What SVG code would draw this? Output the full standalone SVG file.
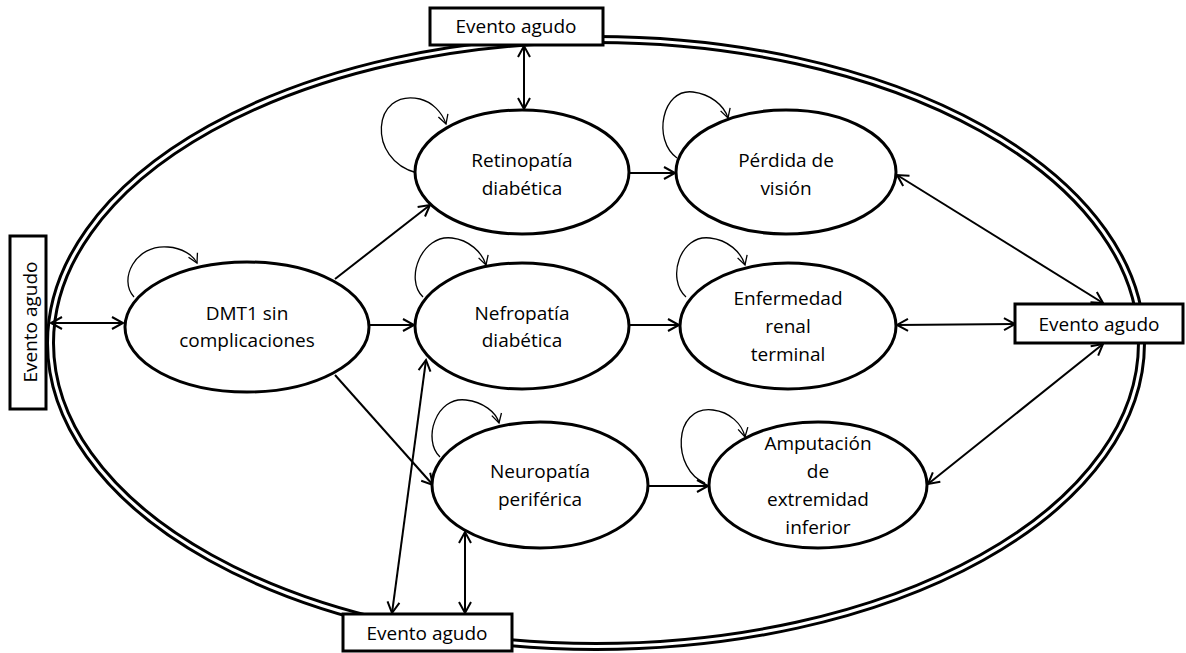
<svg xmlns="http://www.w3.org/2000/svg" width="1186" height="653" viewBox="0 0 1186 653">
<style>
text{font-family:"Open Sans","Liberation Sans",sans-serif;font-size:19px;fill:#000;text-anchor:middle}
.node{fill:#fff;stroke:#000;stroke-width:3}
.box{fill:#fff;stroke:#000;stroke-width:3}
.c{fill:none;stroke:#000;stroke-width:2}
.l{fill:none;stroke:#000;stroke-width:1.3}
</style>
<defs>
<marker id="a" markerUnits="userSpaceOnUse" markerWidth="14" markerHeight="14" refX="11" refY="6" orient="auto-start-reverse" overflow="visible">
<path d="M0,0 L11,6 L0,12" fill="none" stroke="#000" stroke-width="2"/>
</marker>
<marker id="s" markerUnits="userSpaceOnUse" markerWidth="12" markerHeight="12" refX="9" refY="5" orient="auto" overflow="visible">
<path d="M0,0 L9,5 L0,10" fill="none" stroke="#000" stroke-width="1.3"/>
</marker>
</defs>
<g id="frame">
<ellipse cx="596" cy="343" rx="545.5" ry="303.5" fill="none" stroke="#000" stroke-width="9"/>
<ellipse cx="596" cy="343" rx="545.5" ry="303.5" fill="none" stroke="#fff" stroke-width="3"/>
</g>
<g id="connectors">
<line class="c" x1="51" y1="323" x2="123" y2="323" marker-start="url(#a)" marker-end="url(#a)"/>
<line class="c" x1="524" y1="46" x2="524" y2="109" marker-start="url(#a)" marker-end="url(#a)"/>
<line class="c" x1="335" y1="279" x2="430" y2="205" marker-end="url(#a)"/>
<line class="c" x1="369" y1="325" x2="414" y2="325" marker-end="url(#a)"/>
<line class="c" x1="335" y1="375" x2="433" y2="485" marker-end="url(#a)"/>
<line class="c" x1="630" y1="173" x2="675" y2="173" marker-end="url(#a)"/>
<line class="c" x1="630" y1="325" x2="679" y2="325" marker-end="url(#a)"/>
<line class="c" x1="647" y1="486" x2="708" y2="486" marker-end="url(#a)"/>
<line class="c" x1="897" y1="175" x2="1103" y2="303" marker-start="url(#a)" marker-end="url(#a)"/>
<line class="c" x1="897" y1="325" x2="1015" y2="324" marker-start="url(#a)" marker-end="url(#a)"/>
<line class="c" x1="928" y1="484" x2="1103" y2="344" marker-start="url(#a)" marker-end="url(#a)"/>
<line class="c" x1="426" y1="360" x2="392" y2="613" marker-start="url(#a)" marker-end="url(#a)"/>
<line class="c" x1="465" y1="532" x2="465" y2="613" marker-start="url(#a)" marker-end="url(#a)"/>
<path class="l" d="M134,297 C118,280 135,244 168,247 C182,248 193,255 197,263" marker-end="url(#s)"/>
<path class="l" d="M417,173 C366,160 372,88 420,99 C432,102 442,112 446,124" marker-end="url(#s)"/>
<path class="l" d="M423,297 C404,279 422,234 452,238 C469,240 482,252 486,265" marker-end="url(#s)"/>
<path class="l" d="M677,158 C652,140 662,88 693,92 C710,94 724,105 728,118" marker-end="url(#s)"/>
<path class="l" d="M686,297 C666,279 680,234 710,238 C728,240 741,252 745,265" marker-end="url(#s)"/>
<path class="l" d="M440,457 C422,440 436,396 466,400 C483,402 496,412 499,423" marker-end="url(#s)"/>
<path class="l" d="M705,483 C672,470 672,405 713,410 C730,412 742,424 745,437" marker-end="url(#s)"/>
</g>
<g id="dmt1">
<ellipse class="node" cx="247" cy="327" rx="122" ry="65"/>
<text x="247" y="320">DMT1 sin</text>
<text x="247" y="347">complicaciones</text>
</g>
<g id="retinopatia">
<ellipse class="node" cx="522" cy="172" rx="107" ry="62"/>
<text x="522" y="167">Retinopatía</text>
<text x="522" y="195">diabética</text>
</g>
<g id="perdida">
<ellipse class="node" cx="786" cy="172" rx="110" ry="62"/>
<text x="786" y="167">Pérdida de</text>
<text x="786" y="195">visión</text>
</g>
<g id="nefropatia">
<ellipse class="node" cx="522" cy="326" rx="107" ry="63"/>
<text x="522" y="320">Nefropatía</text>
<text x="522" y="347">diabética</text>
</g>
<g id="enfermedad">
<ellipse class="node" cx="788" cy="326" rx="108" ry="63"/>
<text x="788" y="305">Enfermedad</text>
<text x="788" y="333">renal</text>
<text x="788" y="361">terminal</text>
</g>
<g id="neuropatia">
<ellipse class="node" cx="540" cy="485" rx="108" ry="63"/>
<text x="540" y="478">Neuropatía</text>
<text x="540" y="506">periférica</text>
</g>
<g id="amputacion">
<ellipse class="node" cx="818" cy="485" rx="109" ry="63"/>
<text x="818" y="450">Amputación</text>
<text x="818" y="478">de</text>
<text x="818" y="506">extremidad</text>
<text x="818" y="534">inferior</text>
</g>
<g id="evento-top">
<rect class="box" x="430" y="8" width="173" height="37"/>
<text x="516" y="33">Evento agudo</text>
</g>
<g id="evento-left">
<rect class="box" x="10" y="236" width="36" height="173"/>
<text transform="translate(37,322) rotate(-90)">Evento agudo</text>
</g>
<g id="evento-right">
<rect class="box" x="1015" y="304" width="168" height="39"/>
<text x="1099" y="331">Evento agudo</text>
</g>
<g id="evento-bottom">
<rect class="box" x="343" y="614" width="169" height="37"/>
<text x="427" y="640">Evento agudo</text>
</g>
</svg>
